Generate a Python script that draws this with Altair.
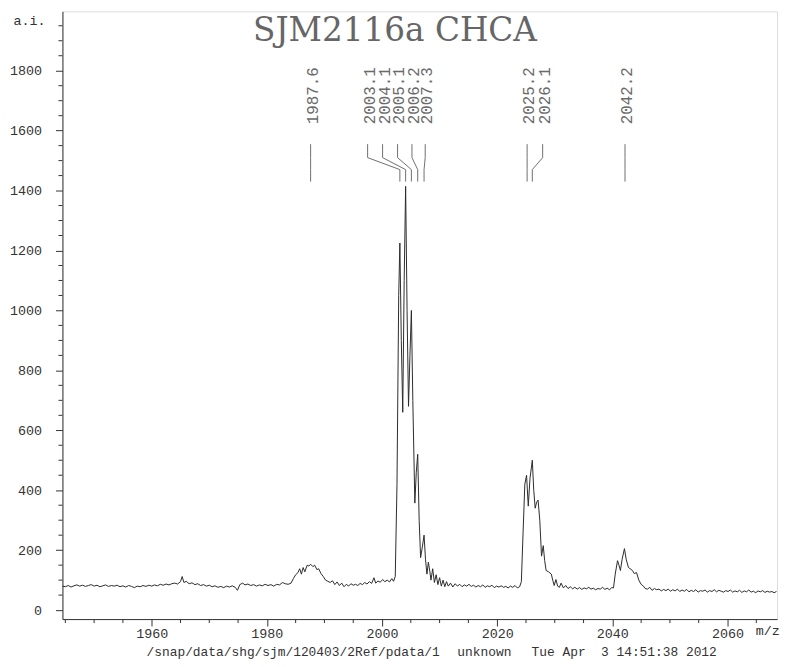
import altair as alt
import pandas as pd

# ---------------- data ----------------
mz = [
    1944.5, 1945.0, 1945.5, 1946.0, 1946.5, 1947.0, 1947.5, 1948.0, 1948.5, 1949.0,
    1949.5, 1950.0, 1950.5, 1951.0, 1951.5, 1952.0, 1952.5, 1953.0, 1953.5, 1954.0,
    1954.5, 1955.0, 1955.5, 1956.0, 1956.5, 1957.0, 1957.5, 1958.0, 1958.5, 1959.0,
    1959.5, 1960.0, 1960.5, 1961.0, 1961.5, 1962.0, 1962.5, 1963.0, 1963.5, 1964.0,
    1964.5, 1965.0, 1965.3, 1965.6, 1966.0, 1966.5, 1967.0, 1967.5, 1968.0, 1968.5,
    1969.0, 1969.5, 1970.0, 1970.5, 1971.0, 1971.5, 1972.0, 1972.5, 1973.0, 1973.5,
    1974.0, 1974.5, 1974.9, 1975.3, 1975.8, 1976.2, 1976.7, 1977.2, 1977.7, 1978.2,
    1978.7, 1979.2, 1979.7, 1980.2, 1980.7, 1981.2, 1981.7, 1982.2, 1982.7, 1983.2,
    1983.7, 1984.2, 1984.6, 1985.0, 1985.4, 1985.7, 1986.0, 1986.3, 1986.6, 1987.0,
    1987.3, 1987.6, 1988.0, 1988.3, 1988.7, 1989.0, 1989.4, 1989.8, 1990.2, 1990.6,
    1991.0, 1991.4, 1991.8, 1992.2, 1992.6, 1993.0, 1993.4, 1993.8, 1994.2, 1994.6,
    1995.0, 1995.4, 1995.8, 1996.2, 1996.6, 1997.0, 1997.4, 1997.8, 1998.2, 1998.6,
    1998.9, 1999.3, 1999.7, 2000.1, 2000.5, 2000.9, 2001.3, 2001.7, 2002.0, 2002.3,
    2002.6, 2002.9, 2003.1, 2003.35, 2003.6, 2003.85, 2004.1, 2004.35, 2004.6, 2004.85,
    2005.1, 2005.35, 2005.7, 2005.95, 2006.2, 2006.45, 2006.7, 2007.0, 2007.3, 2007.55,
    2007.8, 2008.05, 2008.3, 2008.5, 2008.8, 2009.1, 2009.4, 2009.7, 2010.0, 2010.3,
    2010.6, 2010.9, 2011.2, 2011.5, 2011.9, 2012.3, 2012.7, 2013.1, 2013.5, 2013.9,
    2014.3, 2014.7, 2015.1, 2015.5, 2015.9, 2016.3, 2016.7, 2017.1, 2017.5, 2017.9,
    2018.3, 2018.7, 2019.1, 2019.5, 2019.9, 2020.3, 2020.7, 2021.1, 2021.5, 2021.9,
    2022.3, 2022.7, 2023.1, 2023.5, 2023.9, 2024.2, 2024.5, 2024.8, 2025.1, 2025.4,
    2025.7, 2026.1, 2026.35, 2026.6, 2026.85, 2027.1, 2027.4, 2027.7, 2028.0, 2028.25,
    2028.5, 2028.9, 2029.4, 2029.65, 2029.9, 2030.2, 2030.5, 2030.8, 2031.1, 2031.5,
    2031.9, 2032.3, 2032.7, 2033.1, 2033.5, 2033.9, 2034.3, 2034.7, 2035.1, 2035.5,
    2035.9, 2036.3, 2036.7, 2037.1, 2037.5, 2037.9, 2038.3, 2038.7, 2039.1, 2039.5,
    2039.9, 2040.2, 2040.5, 2040.9, 2041.15, 2041.4, 2041.7, 2042.1, 2042.4, 2042.8,
    2043.1, 2043.5, 2043.8, 2044.2, 2044.6, 2045.0, 2045.4, 2045.7, 2046.1, 2046.5,
    2046.9, 2047.3, 2047.7, 2048.1, 2048.5, 2048.9, 2049.3, 2049.7, 2050.1, 2050.5,
    2050.9, 2051.3, 2051.7, 2052.1, 2052.5, 2052.9, 2053.3, 2053.7, 2054.1, 2054.5,
    2054.9, 2055.3, 2055.7, 2056.1, 2056.5, 2056.9, 2057.3, 2057.7, 2058.1, 2058.5,
    2058.9, 2059.3, 2059.7, 2060.1, 2060.5, 2060.9, 2061.3, 2061.7, 2062.1, 2062.5,
    2062.9, 2063.3, 2063.7, 2064.1, 2064.5, 2064.9, 2065.3, 2065.7, 2066.1, 2066.5,
    2066.9, 2067.3, 2067.7, 2068.1, 2068.5,
]
intensity = [
    80, 78, 82, 77, 81, 84, 80, 83, 79, 82,
    85, 80, 83, 78, 81, 84, 79, 82, 80, 83,
    78, 81, 77, 82, 79, 75, 80, 78, 82, 79,
    83, 80, 84, 81, 86, 83, 87, 84, 88, 90,
    87, 95, 112, 92, 96, 88, 91, 85, 88, 82,
    85, 80, 83, 78, 81, 76, 79, 75, 80, 77,
    81, 76, 66, 85, 90, 84, 87, 82, 85, 80,
    84, 81, 86, 82, 85, 80, 86, 84, 92, 88,
    86, 90, 105, 118, 125, 138, 120, 142, 128, 150,
    147, 153, 145, 150, 135, 138, 122, 112, 100, 96,
    92, 98, 85, 94, 82, 90, 78, 86, 80, 88,
    83, 86, 82, 89, 85, 92, 87, 95, 89, 108,
    90, 97, 93, 102, 95, 100, 94, 105, 96, 112,
    420, 1050, 1225, 900, 660, 1100, 1414, 1000, 680, 850,
    1000, 700, 357, 460, 520, 300, 175, 210, 250, 170,
    120, 160, 130, 100, 138, 92, 118, 85, 108, 80,
    100, 78, 95, 80, 90, 77, 88, 80, 86, 78,
    84, 80, 86, 79, 83, 77, 82, 78, 84, 76,
    81, 78, 83, 75, 80, 77, 81, 76, 79, 74,
    80, 76, 82, 74, 78, 95, 260, 420, 450, 347,
    440, 500, 400, 340, 360, 367, 300, 180, 215, 165,
    132, 128, 120, 100, 82, 102, 80, 76, 90, 74,
    82, 72, 78, 71, 76, 70, 75, 69, 74, 71,
    76, 70, 73, 68, 72, 70, 76, 69, 73, 68,
    75, 74, 120, 165, 150, 132, 170, 205, 170, 142,
    138, 132, 122, 125, 100, 86, 80, 72, 70, 76,
    66, 72, 68, 70, 64, 69, 65, 70, 63, 68,
    64, 70, 62, 67, 63, 69, 61, 66, 62, 68,
    60, 65, 63, 67, 60, 65, 62, 68, 61, 66,
    63, 60, 65, 62, 67, 60, 64, 61, 66, 59,
    64, 61, 67, 60, 63, 58, 64, 61, 65, 59,
    63, 60, 62, 58, 62,
]

peak_text = ["1987.6", "2003.1", "2004.1", "2005.1", "2006.2",
             "2007.3", "2025.2", "2026.1", "2042.2"]
peak_mz = [1987.6, 2003.1, 2004.1, 2005.1, 2006.2, 2007.3, 2025.2, 2026.1, 2042.2]
label_mz = [1987.6, 1997.5, 2000.1, 2002.7, 2005.2, 2007.5, 2025.2, 2027.9, 2042.2]
leader_levels = [1555, 1510, 1470, 1430]   # top, bend, bend, bottom (a.i.)

x_major = [1960, 1980, 2000, 2020, 2040, 2060]
x_minor = [v for v in range(1945, 2069, 5) if v % 20 != 0]
y_major = [0, 200, 400, 600, 800, 1000, 1200, 1400, 1600, 1800]
y_minor = [v for v in range(50, 2000, 50) if v % 200 != 0]

title_text = "SJM2116a CHCA"
caption_parts = ["/snap/data/shg/sjm/120403/2Ref/pdata/1", "unknown",
                 "Tue Apr\u00a0 3 14:51:38 2012"]
caption_x = [85, 399, 474]   # left edges, px from plot left

# ---------------- frames ----------------
spec = pd.DataFrame({"mz": mz, "ai": intensity})
labels = pd.DataFrame({"text": peak_text, "mz": label_mz})
lead_rows = []
for i, (lx, px) in enumerate(zip(label_mz, peak_mz)):
    xs_ = [lx, lx, px, px]
    for j, (xv, yv) in enumerate(zip(xs_, leader_levels)):
        lead_rows.append({"pk": i, "o": j, "mz": xv, "ai": yv})
leads = pd.DataFrame(lead_rows)
caps = pd.DataFrame({"t": caption_parts, "px": caption_x})

MONO = "Liberation Mono"
INK = "#333333"
W, H = 722, 614
xs = alt.Scale(domain=[1944.5, 2068.6], nice=False, zero=False)
ys = alt.Scale(domain=[-30, 1998], nice=False, zero=False)

x_axis = alt.Axis(values=x_major, format="d", tickSize=7, labelPadding=1, grid=False,
                  labelFont=MONO, labelFontSize=13.5, labelColor=INK,
                  domainColor=INK, tickColor=INK, title="m/z",
                  titleFont=MONO, titleFontSize=13.5, titleFontWeight="normal",
                  titleColor=INK, titleX=700, titleY=12, titleAlign="left",
                  titleBaseline="middle", labelFlush=False)
y_axis = alt.Axis(values=y_major, format="d", tickSize=7, labelPadding=14, grid=False,
                  labelFont=MONO, labelFontSize=13.5, labelColor=INK,
                  domainColor=INK, tickColor=INK, title="a.i.",
                  titleFont=MONO, titleFontSize=13.5, titleFontWeight="normal",
                  titleColor=INK, titleAngle=0, titleX=-50, titleY=9,
                  titleAlign="left", titleBaseline="middle")

line = alt.Chart(spec).mark_line(color="#2a2a2a", strokeWidth=1).encode(
    x=alt.X("mz:Q", scale=xs, axis=x_axis),
    y=alt.Y("ai:Q", scale=ys, axis=y_axis),
)

leader = alt.Chart(leads).mark_line(color="#6e6e6e", strokeWidth=1).encode(
    x=alt.X("mz:Q", scale=xs),
    y=alt.Y("ai:Q", scale=ys),
    detail="pk:N",
    order="o:O",
)

peak_labels = alt.Chart(labels).mark_text(
    angle=270, align="left", baseline="middle", font=MONO, fontSize=16,
    color="#6a6a6a", dy=2,
).encode(x=alt.X("mz:Q", scale=xs), y=alt.value(114), text="text:N")

xminor = alt.Chart(pd.DataFrame({"v": x_minor})).mark_rule(color=INK).encode(
    x=alt.X("v:Q", scale=xs), y=alt.value(H), y2=alt.value(H + 4))
yminor = alt.Chart(pd.DataFrame({"v": y_minor})).mark_rule(color=INK).encode(
    y=alt.Y("v:Q", scale=ys), x=alt.value(-4), x2=alt.value(0))

title = alt.Chart(pd.DataFrame({"t": [title_text]})).mark_text(
    font="DejaVu Serif", fontSize=33, color="#666666", align="center",
    baseline="middle",
).encode(x=alt.value(336), y=alt.value(20), text="t:N")

caption = alt.Chart(caps).mark_text(
    font=MONO, fontSize=13, color=INK, align="left", baseline="middle",
).encode(x=alt.X("px:Q", scale=None), y=alt.value(647), text="t:N")

chart = alt.layer(line, leader, peak_labels, xminor, yminor, title, caption).properties(
    width=W, height=H,
    autosize=alt.AutoSizeParams(type="none"),
    padding={"left": 55, "top": 0, "right": 3, "bottom": 45},
).configure_view(stroke=None).configure(background="white")

chart.save("out.html", embed_options={"renderer": "svg", "actions": False})
